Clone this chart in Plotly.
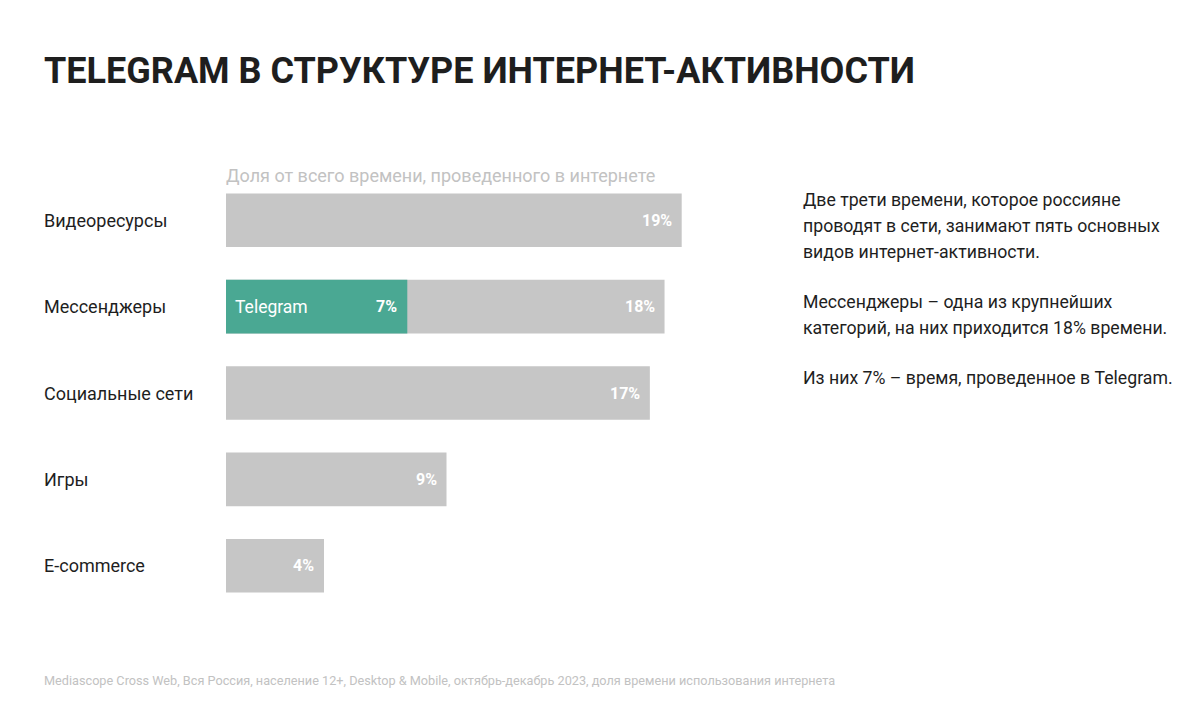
import plotly.graph_objects as go

# categories, top to bottom
categories = ["Видеоресурсы", "Мессенджеры", "Социальные сети", "Игры", "E-commerce"]
# share of total internet time, % (bar lengths)
shares = [18.6, 17.9, 17.3, 9.0, 4.0]
share_labels = ["19%", "18%", "17%", "9%", "4%"]
# Telegram share inside messengers
telegram_category = "Мессенджеры"
telegram_share = 7.4
telegram_label = "7%"

title = "TELEGRAM В СТРУКТУРЕ ИНТЕРНЕТ-АКТИВНОСТИ"
subtitle = "Доля от всего времени, проведенного в интернете"
side_lines = [
    ["Две трети времени, которое россияне",
     "проводят в сети, занимают пять основных",
     "видов интернет-активности."],
    ["Мессенджеры – одна из крупнейших",
     "категорий, на них приходится 18% времени."],
    ["Из них 7% – время, проведенное в Telegram."],
]
source = ("Mediascope Cross Web, Вся Россия, население 12+, Desktop & Mobile, "
          "октябрь-декабрь 2023, доля времени использования интернета")

FONT = "Roboto"
GREY_BAR = "#c6c6c6"
TEAL = "#4aa893"
DARK = "#1e1e1e"

# page body adds an 8px offset; plot area in figure pixels
OFF = 8
PAD = 2  # annotation border padding
L, T, W, H = 226 - OFF, 177 - OFF, 500, 432


def fx(px):
    """screen px of a left-anchored text -> paper x (relative to plot area)"""
    return (px - PAD - OFF - L) / W


def fy(py):
    return 1 - (py - OFF - T) / H


fig = go.Figure()
fig.add_trace(go.Bar(
    x=shares, y=categories, orientation="h",
    marker=dict(color=GREY_BAR, line_width=0),
    width=0.62, hoverinfo="skip",
))
fig.add_trace(go.Bar(
    x=[telegram_share], y=[telegram_category], orientation="h",
    marker=dict(color=TEAL, line_width=0),
    width=0.62, hoverinfo="skip",
))

annotations = []
for cat, v, lab in zip(categories, shares, share_labels):
    annotations.append(dict(
        x=v, y=cat, xref="x", yref="y", text=f"<b>{lab}</b>", showarrow=False,
        xanchor="right", xshift=-8,
        font=dict(family=FONT, size=16, color="white"),
    ))
    annotations.append(dict(
        x=fx(44), y=cat, xref="paper", yref="y", text=cat, showarrow=False,
        xanchor="left", font=dict(family=FONT, size=18, color=DARK),
    ))
annotations.append(dict(
    x=telegram_share, y=telegram_category, xref="x", yref="y",
    text=f"<b>{telegram_label}</b>", showarrow=False, xanchor="right", xshift=-8,
    font=dict(family=FONT, size=16, color="white"),
))
annotations.append(dict(
    x=0, y=telegram_category, xref="x", yref="y", text="Telegram", showarrow=False,
    xanchor="left", xshift=7, font=dict(family=FONT, size=17.5, color="white"),
))
annotations.append(dict(
    x=fx(226), y=fy(176), xref="paper", yref="paper", text=subtitle, showarrow=False,
    xanchor="left", yanchor="middle", font=dict(family=FONT, size=18, color="#c2c2c2"),
))

# right-hand commentary, one annotation per line for 26px leading
ypix = 200
for para in side_lines:
    for line in para:
        annotations.append(dict(
            x=fx(803), y=fy(ypix), xref="paper", yref="paper", text=line,
            showarrow=False, xanchor="left", yanchor="middle",
            font=dict(family=FONT, size=17.7, color=DARK),
        ))
        ypix += 26
    ypix += 24

annotations.append(dict(
    x=fx(44), y=fy(680), xref="paper", yref="paper", text=source,
    showarrow=False, xanchor="left", yanchor="middle",
    font=dict(family=FONT, size=12.7, color="#c2c2c2"),
))

fig.update_layout(
    width=1200, height=720,
    margin=dict(l=L, r=1200 - L - W, t=T, b=720 - T - H, autoexpand=False),
    paper_bgcolor="white", plot_bgcolor="white",
    showlegend=False, barmode="overlay",
    title=dict(text=f"<b>{title}</b>", x=(44 - OFF) / 1200, xanchor="left",
               y=1 - (70 - OFF) / 720, yanchor="middle",
               font=dict(family=FONT, size=36, color=DARK)),
    xaxis=dict(range=[0, W / 24.5], visible=False, fixedrange=True),
    yaxis=dict(autorange="reversed", visible=False, fixedrange=True),
    annotations=annotations,
)
fig.write_html("out.html")
